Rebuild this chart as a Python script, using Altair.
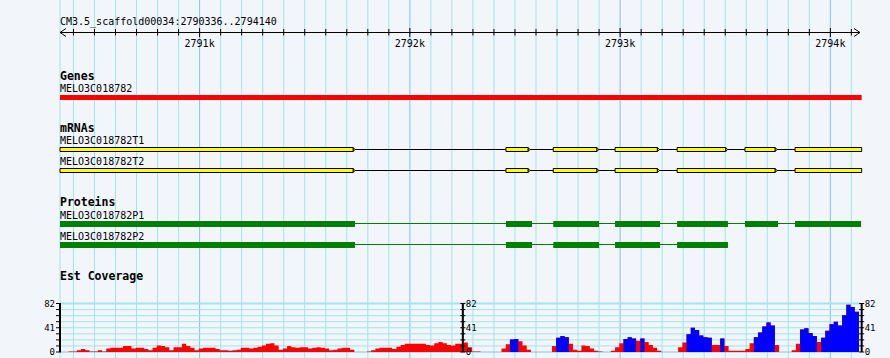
import altair as alt
import numpy as np
import pandas as pd

# ---------------- data ----------------
ruler_title = "CM3.5_scaffold00034:2790336..2794140"
region_start = 2790336
region_end = 2794140
major_ticks = [2791000, 2792000, 2793000, 2794000]
major_labels = ["2791k", "2792k", "2793k", "2794k"]
minor_ticks = list(range(2790400, 2794101, 100))

gene_name = "MELO3C018782"
gene_span = [2790336, 2794149]

mrna_names = ["MELO3C018782T1", "MELO3C018782T2"]
mrna_exon_starts = [
    [2790336, 2792457, 2792682, 2792976, 2793271, 2793594, 2793832],
    [2790336, 2792457, 2792682, 2792976, 2793271, 2793832],
]
mrna_exon_ends = [
    [2791730, 2792562, 2792889, 2793177, 2793502, 2793737, 2794149],
    [2791730, 2792562, 2792889, 2793177, 2793737, 2794149],
]

protein_names = ["MELO3C018782P1", "MELO3C018782P2"]
protein_cds_starts = [
    [2790336, 2792457, 2792682, 2792976, 2793271, 2793594, 2793832],
    [2790336, 2792457, 2792682, 2792976, 2793271],
]
protein_cds_ends = [
    [2791739, 2792581, 2792900, 2793190, 2793513, 2793751, 2794146],
    [2791739, 2792581, 2792900, 2793190, 2793513],
]

cov_start = 2790336
cov_bin = 20
cov_values = [
    0, 0, 1, 1, 3, 5, 3, 1, 1, 3,
    1, 6, 7, 7, 7, 10, 10, 6, 7, 7,
    5, 3, 7, 11, 10, 8, 3, 8, 8, 14,
    10, 7, 3, 6, 7, 7, 7, 5, 3, 3,
    2, 3, 4, 7, 7, 6, 7, 9, 11, 14,
    15, 11, 4, 6, 10, 8, 7, 8, 8, 6,
    7, 8, 7, 6, 3, 4, 6, 7, 7, 4,
    0, 0, 0, 1, 3, 6, 7, 7, 7, 5,
    9, 12, 14, 14, 14, 14, 14, 12, 11, 15,
    17, 15, 12, 11, 14, 14, 16, 8, 1, 1,
    0, 0, 0, 0, 0, 6, 13, 21, 22, 18,
    11, 4, 0, 0, 0, 0, 0, 10, 24, 27,
    25, 14, 4, 2, 11, 10, 6, 2, 1, 0,
    0, 2, 8, 15, 22, 25, 23, 19, 23, 17,
    12, 7, 2, 0, 0, 0, 0, 8, 16, 30,
    41, 37, 28, 25, 24, 12, 12, 23, 10, 2,
    2, 2, 2, 5, 15, 25, 33, 43, 50, 45,
    12, 0, 0, 0, 3, 14, 38, 40, 32, 27,
    17, 24, 36, 47, 51, 45, 62, 80, 76, 68,
]
cov_blue_bins = [107, 108, 118, 119, 120, 134, 135, 136, 138,
                 149, 150, 151, 152, 153, 154, 157,
                 165, 166, 167, 168, 169, 176, 177, 178, 179,
                 181, 182, 183, 184, 185, 186, 187, 188, 189]
cov_max = 82
cov_labels = [0, 41, 82]
cov_axis_pos = [2790336, 2792252, 2794149]

# ---------------- style / layout ----------------
W, H = 800, 358
BG = "#f2f5fa"
GRID_MINOR = "#9fe6ea"
GRID_MAJOR = "#7cc4f4"
RED, BLUE, GREEN, YELLOW = "#ff0000", "#0000ff", "#008000", "#ffff00"
MONO = "DejaVu Sans Mono"

Y_RULER_TITLE, Y_RULER, Y_RULER_LABEL = 25, 32.5, 47
Y_GENES_T, Y_GENE_L, Y_GENE_BAR = 80, 92, (95, 100)
Y_MRNA_T, Y_MRNA_L, Y_MRNA_C = 132, [144, 165], [149.5, 170.5]
Y_PROT_T, Y_PROT_L, Y_PROT_C = 206, [218.5, 239.5], [224, 245]
Y_COV_T = 280
COV_TOP_PX, COV_BASE_PX = 303.5, 352

XS = alt.Scale(domain=[region_start, region_end + 1], nice=False, zero=False)
YP = alt.Scale(domain=[H, 0], nice=False, zero=False)
k = (COV_BASE_PX - COV_TOP_PX) / cov_max
d0 = -(H - COV_BASE_PX) / k
YC = alt.Scale(domain=[d0, d0 + H / k], nice=False, zero=False)


def X(f):
    return alt.X(f"{f}:Q", scale=XS, axis=None, title=None)


def X2(f):
    return alt.X2(f"{f}:Q")


def YPx(f):
    return alt.Y(f"{f}:Q", scale=YP, axis=None, title=None)


def YCv(f):
    return alt.Y(f"{f}:Q", scale=YC, axis=None, title=None)


# ---------------- pixel-layout layers ----------------
grid_df = pd.DataFrame({"pos": [region_start] + minor_ticks})
grid = alt.Chart(grid_df).mark_rule(strokeWidth=1).encode(
    x=X("pos"),
    color=alt.condition("datum.pos % 1000 === 0", alt.value(GRID_MAJOR), alt.value(GRID_MINOR)),
)

ruler_df = pd.DataFrame({"a": [region_start], "b": [region_end + 1], "py": [Y_RULER]})
ruler_line = alt.Chart(ruler_df).mark_rule(color="black", strokeWidth=1).encode(
    x=X("a"), x2=X2("b"), y=YPx("py"))

tick_df = pd.DataFrame({"pos": minor_ticks})
is_major = tick_df["pos"] % 1000 == 0
tick_df["y1"] = np.where(is_major, Y_RULER - 4.5, Y_RULER - 3.5)
tick_df["y2"] = np.where(is_major, Y_RULER + 4.5, Y_RULER + 3)
ruler_ticks = alt.Chart(tick_df).mark_rule(color="black", strokeWidth=1).encode(
    x=X("pos"), y=YPx("y1"), y2=alt.Y2("y2:Q"))

arrow_l = alt.Chart(pd.DataFrame({"pos": [region_start], "py": [Y_RULER]})).mark_point(
    shape="M 1.5 -1 L 0 0 L 1.5 1", size=64, filled=False, stroke="black", strokeWidth=1, opacity=1
).encode(x=X("pos"), y=YPx("py"))
arrow_r = alt.Chart(pd.DataFrame({"pos": [region_end + 1], "py": [Y_RULER]})).mark_point(
    shape="M -1.5 -1 L 0 0 L -1.5 1", size=64, filled=False, stroke="black", strokeWidth=1, opacity=1
).encode(x=X("pos"), y=YPx("py"))

rlab_df = pd.DataFrame({"pos": major_ticks, "label": major_labels, "py": Y_RULER_LABEL})
ruler_labels = alt.Chart(rlab_df).mark_text(
    font=MONO, fontSize=10, align="center", baseline="alphabetic", color="black"
).encode(x=X("pos"), y=YPx("py"), text="label:N")

gene_df = pd.DataFrame({"a": [gene_span[0]], "b": [gene_span[1]],
                        "y1": [Y_GENE_BAR[0]], "y2": [Y_GENE_BAR[1]]})
gene_bar = alt.Chart(gene_df).mark_rect(color=RED).encode(
    x=X("a"), x2=X2("b"), y=YPx("y1"), y2=alt.Y2("y2:Q"))

mrna_rows, mrna_lines, mrna_tips = [], [], []
for i, name in enumerate(mrna_names):
    c = Y_MRNA_C[i]
    n = len(mrna_exon_starts[i])
    for j, (s, e) in enumerate(zip(mrna_exon_starts[i], mrna_exon_ends[i])):
        mrna_rows.append({"name": name, "a": s, "b": e, "y1": c - 2, "y2": c + 2})
        if j < n - 1:
            mrna_tips.append({"name": name, "pos": e, "py": c})
    mrna_lines.append({"name": name, "a": min(mrna_exon_starts[i]), "b": max(mrna_exon_ends[i]), "py": c})
mrna_line = alt.Chart(pd.DataFrame(mrna_lines)).mark_rule(color="black", strokeWidth=1).encode(
    x=X("a"), x2=X2("b"), y=YPx("py"))
mrna_tip = alt.Chart(pd.DataFrame(mrna_tips)).mark_point(
    shape="M 0 -1 L 1 0 L 0 1 Z", size=16, filled=True, fill=YELLOW, stroke="black",
    strokeWidth=1, opacity=1).encode(x=X("pos"), y=YPx("py"))
mrna_exons = alt.Chart(pd.DataFrame(mrna_rows)).mark_rect(
    fill=YELLOW, stroke="black", strokeWidth=1).encode(
    x=X("a"), x2=X2("b"), y=YPx("y1"), y2=alt.Y2("y2:Q"))

prot_rows, prot_lines = [], []
for i, name in enumerate(protein_names):
    c = Y_PROT_C[i]
    for s, e in zip(protein_cds_starts[i], protein_cds_ends[i]):
        prot_rows.append({"name": name, "a": s, "b": e, "y1": c - 3, "y2": c + 3})
    prot_lines.append({"name": name, "a": min(protein_cds_starts[i]), "b": max(protein_cds_ends[i]), "py": c - 0.5})
prot_line = alt.Chart(pd.DataFrame(prot_lines)).mark_rule(color=GREEN, strokeWidth=1).encode(
    x=X("a"), x2=X2("b"), y=YPx("py"))
prot_cds = alt.Chart(pd.DataFrame(prot_rows)).mark_rect(color=GREEN).encode(
    x=X("a"), x2=X2("b"), y=YPx("y1"), y2=alt.Y2("y2:Q"))

titles_df = pd.DataFrame({
    "text": ["Genes", "mRNAs", "Proteins", "Est Coverage"],
    "pos": region_start,
    "py": [Y_GENES_T, Y_MRNA_T, Y_PROT_T, Y_COV_T],
})
labels_df = pd.DataFrame({
    "text": [ruler_title, gene_name] + mrna_names + protein_names,
    "pos": region_start,
    "py": [Y_RULER_TITLE, Y_GENE_L] + Y_MRNA_L + Y_PROT_L,
})
track_titles = alt.Chart(titles_df).mark_text(
    font=MONO, fontSize=11.5, fontWeight="bold", align="left", baseline="alphabetic", color="black"
).encode(x=X("pos"), y=YPx("py"), text="text:N")
feature_labels = alt.Chart(labels_df).mark_text(
    font=MONO, fontSize=10, align="left", baseline="alphabetic", color="black"
).encode(x=X("pos"), y=YPx("py"), text="text:N")

pix = alt.layer(grid, ruler_line, ruler_ticks, arrow_l, arrow_r, ruler_labels,
                gene_bar, mrna_line, mrna_tip, mrna_exons, prot_line, prot_cds,
                track_titles, feature_labels)

# ---------------- coverage layers ----------------
hg_df = pd.DataFrame({"v": [cov_max * j / 8 for j in range(9)]})
hg_df["a"] = region_start
hg_df["b"] = region_end + 1
hgrid = alt.Chart(hg_df).mark_rule().encode(
    x=X("a"), x2=X2("b"), y=YCv("v"),
    color=alt.condition("datum.v === 0", alt.value(GRID_MAJOR), alt.value(GRID_MINOR)),
    strokeWidth=alt.condition(f"datum.v === {cov_max}", alt.value(2), alt.value(1)),
)

# step-shaped coverage: one point per bin start, plus the end of the last bin
n_bins = len(cov_values)
is_blue = np.isin(np.arange(n_bins), cov_blue_bins)
starts = cov_start + cov_bin * np.arange(n_bins + 1)
all_vals = list(cov_values) + [cov_values[-1]]
blue_vals = [v if b else 0 for v, b in zip(cov_values, is_blue)]
blue_vals = blue_vals + [blue_vals[-1]]
area_df = pd.DataFrame({"start": starts, "total": all_vals, "blue": blue_vals, "zero": 0})

cov_red = alt.Chart(area_df).mark_area(interpolate="step-after", color=RED, opacity=1).encode(
    x=X("start"), y=YCv("total"), y2=alt.Y2("zero:Q"))
cov_blue = alt.Chart(area_df).mark_area(interpolate="step-after", color=BLUE, opacity=1).encode(
    x=X("start"), y=YCv("blue"), y2=alt.Y2("zero:Q"))

ax_df = pd.DataFrame({"pos": cov_axis_pos, "lo": 0, "hi": cov_max})
ax_lines = alt.Chart(ax_df).mark_rule(color="black", strokeWidth=2).encode(
    x=X("pos"), y=YCv("lo"), y2=alt.Y2("hi:Q"))

tick_vals = [cov_max * j / 8 for j in range(9)]
lt_df = pd.DataFrame({"pos": cov_axis_pos[0], "t": tick_vals})
rt_df = pd.DataFrame([{"pos": p, "t": t} for p in cov_axis_pos[1:] for t in tick_vals])
ax_ticks_l = alt.Chart(lt_df).mark_tick(orient="horizontal", size=5, thickness=1, color="black",
                                        xOffset=-1.5, opacity=1).encode(x=X("pos"), y=YCv("t"))
ax_ticks_r = alt.Chart(rt_df).mark_tick(orient="horizontal", size=5, thickness=1, color="black",
                                        opacity=1).encode(x=X("pos"), y=YCv("t"))

ll_df = pd.DataFrame({"pos": cov_axis_pos[0], "t": cov_labels, "s": [str(v) for v in cov_labels]})
rl_df = pd.DataFrame([{"pos": p, "t": t, "s": str(t)} for p in cov_axis_pos[1:] for t in cov_labels])
ax_lab_l = alt.Chart(ll_df).mark_text(font=MONO, fontSize=9, align="right", baseline="middle",
                                      dx=-5, color="black").encode(x=X("pos"), y=YCv("t"), text="s:N")
ax_lab_r = alt.Chart(rl_df).mark_text(font=MONO, fontSize=9, align="left", baseline="middle",
                                      dx=3, color="black").encode(x=X("pos"), y=YCv("t"), text="s:N")

cov = alt.layer(hgrid, cov_red, cov_blue, ax_lines, ax_ticks_l, ax_ticks_r, ax_lab_l, ax_lab_r)

chart = alt.layer(pix, cov).resolve_scale(y="independent").properties(
    width=W, height=H, background=BG,
    autosize=alt.AutoSizeParams(type="none"),
    padding={"left": 60, "right": 30, "top": 0, "bottom": 0},
).configure_view(stroke=None)

chart.save("out.html", embed_options={"renderer": "svg", "actions": False})
